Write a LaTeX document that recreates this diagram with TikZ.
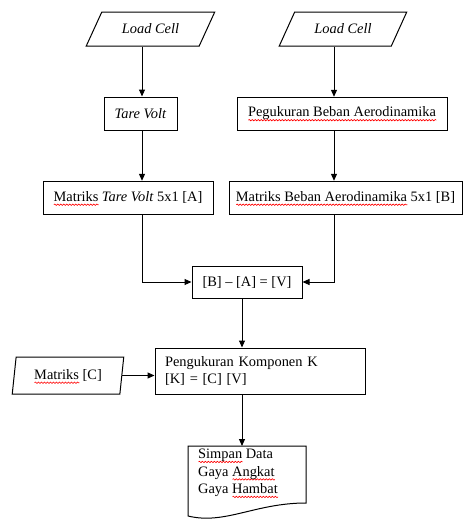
\documentclass[tikz,border=0pt]{standalone}
\usepackage{fontspec}
\setmainfont{Liberation Serif}
\usetikzlibrary{shapes.geometric,arrows.meta,decorations.pathmorphing}

\newlength{\salahlen}
\newcommand{\salah}[1]{\settowidth{\salahlen}{#1}%
    \rlap{\smash{\tikz[baseline=0pt,x=1pt,y=1pt]\draw[red,line width=0.6pt,decorate,
        decoration={snake,amplitude=0.7pt,segment length=3pt}] (0,-3.2) -- (\salahlen,-3.2);}}#1}

\begin{document}
\begin{tikzpicture}[x=1pt,y=-1pt,line width=1pt,
    font=\fontsize{14.4}{17.5}\selectfont,
    kotak/.style={draw, inner sep=0pt, minimum height=33},
    data/.style={draw, trapezium, trapezium stretches=true, inner sep=0pt,
        trapezium left angle=#1, trapezium right angle=180-#1},
    panah/.style={-{Triangle[length=7pt,width=6pt]}}] %Diagram alir
        \useasboundingbox (0,0) rectangle (463,520);

        \coordinate (kiri) at (142,0);
        \coordinate (kanan) at (334,0);
        \coordinate (tengah) at (242,0);
        \coordinate (dtop) at (242,446);

        \node[data=48, minimum width=129, minimum height=34] (lc1) at (150.5,29) {\textit{Load Cell}};
        \node[data=48, minimum width=128, minimum height=34] (lc2) at (343,29) {\textit{Load Cell}};

        \node[kotak, minimum width=73] (tv) at (140.5,113.5) {\textit{Tare Volt}};
        \node[kotak, minimum width=210] (pbt) at (342,113.5) {\salah{Pegukuran Beban Aerodinamika}};

        \node[kotak, minimum width=170] (mtv) at (128,197.5) {\salah{Matriks} \textit{Tare Volt} 5x1 [A]};
        \node[kotak, minimum width=233] (mbb) at (345.5,197.5) {\salah{Matriks Beban Aerodinamika} 5x1 [B]};

        \node[kotak, minimum width=110, minimum height=32] (bav) at (247,282) {[B] -- [A] = [V]};

        \node[kotak, minimum width=210, minimum height=46, text width=190, align=left] (pk) at (260,371)
            {Pengukuran Komponen K\\ {[K]} = [C] [V]};
        \node[data=78, minimum width=112, minimum height=37] (mc) at (68,375.5) {\salah{Matriks} [C]};

        \draw (188,446) -- (306,446) -- (306,503) .. controls (255,503) and (225,525) .. (188,516) -- cycle;
        \node[anchor=north west, align=left, inner sep=0pt] (simpan) at (198,449)
            {\salah{Simpan} Data\\ Gaya \salah{Angkat}\\ Gaya \salah{Hambat}};

        \draw[panah] (lc1.south -| kiri) -- (tv.north -| kiri);
        \draw[panah] (tv.south -| kiri) -- (mtv.north -| kiri);
        \draw[panah] (lc2.south -| kanan) -- (pbt.north -| kanan);
        \draw[panah] (pbt.south -| kanan) -- (mbb.north -| kanan);
        \draw[panah] (mtv.south -| kiri) |- (bav.west);
        \draw[panah] (mbb.south -| kanan) |- (bav.east);
        \draw[panah] (bav.south -| tengah) -- (pk.north -| tengah);
        \draw[panah] (mc.east) -- (mc.east -| pk.west);
        \draw[panah] (pk.south -| tengah) -- (dtop);
    \end{tikzpicture}
\end{document}
